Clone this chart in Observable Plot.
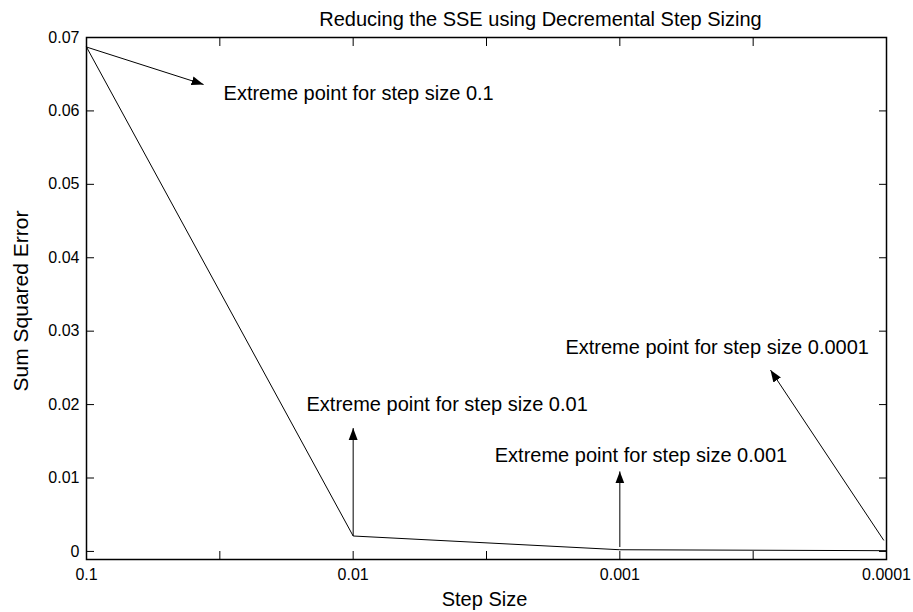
<!DOCTYPE html>
<html>
<head>
<meta charset="utf-8">
<script src="https://cdn.jsdelivr.net/npm/d3@7"></script>
<script src="https://cdn.jsdelivr.net/npm/@observablehq/plot@0.6"></script>
<style>
  html, body { margin: 0; padding: 0; background: #fff; }
  #chart svg { display: block; }
</style>
</head>
<body>
<div id="chart"></div>
<script>
// ---- data ----
const stepPositions = [1, 2, 3, 4];
const stepLabels = ["0.1", "0.01", "0.001", "0.0001"];
const sse = [0.0687, 0.0021, 0.00023, 0.0001];

const xTicks = [1, 1.5, 2, 2.5, 3, 3.5, 4];
const yTicks = [0, 0.01, 0.02, 0.03, 0.04, 0.05, 0.06, 0.07];

// annotation arrows (data units)
const arrowX1 = [1, 2, 3, 3.99];
const arrowY1 = [0.0687, 0.0021, 0.0006, 0.0015];
const arrowX2 = [1.439, 2, 3, 3.565];
const arrowY2 = [0.0636, 0.0168, 0.0109, 0.0247];

// annotation texts
const annX = [1.514, 1.825, 2.531, 2.796];
const annY = [0.0624, 0.0200, 0.0131, 0.0277];
const annText = [
  "Extreme point for step size 0.1",
  "Extreme point for step size 0.01",
  "Extreme point for step size 0.001",
  "Extreme point for step size 0.0001"
];

const titleText = ["Reducing the SSE using Decremental Step Sizing"];
const xLabel = ["Step Size"];
const yLabel = ["Sum Squared Error"];

// ---- build ----
const linePts = stepPositions.map((p, i) => ({p, v: sse[i]}));
const arrows = arrowX1.map((d, i) => ({x1: d, y1: arrowY1[i], x2: arrowX2[i], y2: arrowY2[i]}));
const anns = annText.map((t, i) => ({x: annX[i], y: annY[i], t}));

function filledArrow(color, context) {
  const ns = "http://www.w3.org/2000/svg";
  const doc = (context && context.document) || document;
  const m = doc.createElementNS(ns, "marker");
  m.setAttribute("viewBox", "-12 -6 12 12");
  m.setAttribute("markerWidth", "12");
  m.setAttribute("markerHeight", "12");
  m.setAttribute("refX", "0");
  m.setAttribute("refY", "0");
  m.setAttribute("orient", "auto");
  m.setAttribute("markerUnits", "userSpaceOnUse");
  const p = doc.createElementNS(ns, "path");
  p.setAttribute("d", "M-12,-4.5L0,0L-12,4.5Z");
  p.setAttribute("fill", color);
  p.setAttribute("stroke", "none");
  m.appendChild(p);
  return m;
}

const labelFor = d => {
  const i = stepPositions.indexOf(d);
  return i >= 0 ? stepLabels[i] : "";
};

const chart = Plot.plot({
  width: 913,
  height: 612,
  marginLeft: 86,
  marginRight: 27,
  marginTop: 37,
  marginBottom: 53,
  style: {fontFamily: "'Liberation Sans', Arial, sans-serif", fontSize: "16px", color: "black", background: "white"},
  x: {type: "linear", domain: [1, 4]},
  y: {type: "linear", domain: [-0.0011, 0.07]},
  marks: [
    Plot.frame({stroke: "black", strokeWidth: 1.5}),
    // inward ticks
    Plot.axisX(xTicks, {anchor: "bottom", tickSize: -8, tickFormat: () => "", label: null}),
    Plot.axisX(xTicks, {anchor: "top", tickSize: -8, tickFormat: () => "", label: null}),
    Plot.axisY(yTicks, {anchor: "left", tickSize: -8, tickFormat: () => "", label: null}),
    Plot.axisY(yTicks, {anchor: "right", tickSize: -8, tickFormat: () => "", label: null}),
    // tick labels
    Plot.axisX(stepPositions, {anchor: "bottom", tickSize: 0, tickPadding: 9, tickFormat: labelFor, label: null, fontSize: 16}),
    Plot.axisY(yTicks, {anchor: "left", tickSize: 0, tickPadding: 7, tickFormat: d => d === 0 ? "0" : d3.format(".2f")(d), label: null, fontSize: 16}),
    // data line
    Plot.line(linePts, {x: "p", y: "v", stroke: "black", strokeWidth: 1}),
    // arrows
    Plot.link(arrows, {x1: "x1", y1: "y1", x2: "x2", y2: "y2", stroke: "black", strokeWidth: 1, markerEnd: filledArrow}),
    // annotation texts
    Plot.text(anns, {x: "x", y: "y", text: "t", textAnchor: "start", lineAnchor: "middle", fontSize: 20, fill: "black"}),
    // title & axis labels
    Plot.text(titleText, {frameAnchor: "top", dx: 54, dy: -17.5, textAnchor: "middle", lineAnchor: "middle", fontSize: 20, fill: "black"}),
    Plot.text(xLabel, {frameAnchor: "bottom", dx: -2, dy: 40.5, textAnchor: "middle", lineAnchor: "middle", fontSize: 20, fill: "black"}),
    Plot.text(yLabel, {frameAnchor: "left", dx: -65, dy: 2.5, rotate: -90, textAnchor: "middle", lineAnchor: "middle", fontSize: 21, fill: "black"})
  ]
});

document.getElementById("chart").appendChild(chart);
</script>
</body>
</html>
